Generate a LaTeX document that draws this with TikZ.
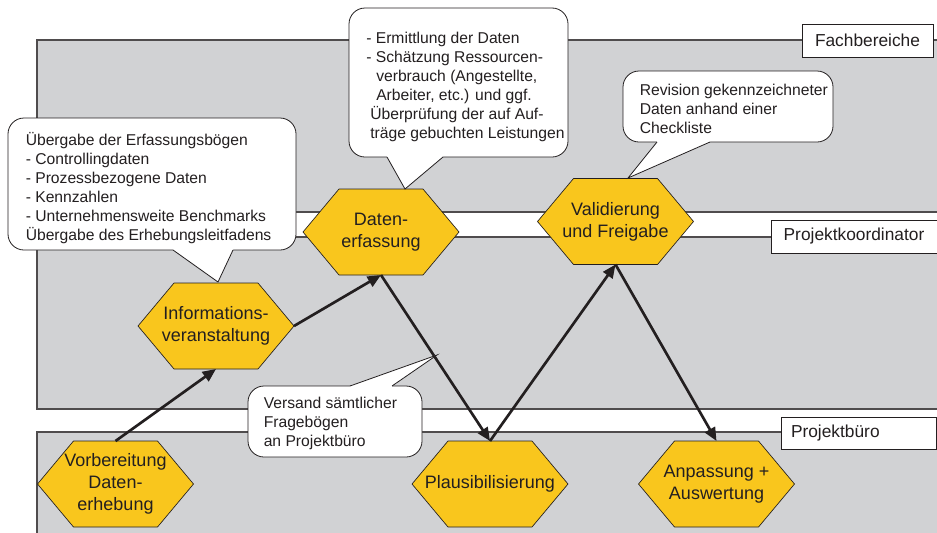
\documentclass[tikz,border=0pt]{standalone}
\usepackage{fontspec}
\setmainfont{Liberation Sans}
\usetikzlibrary{arrows.meta}
\definecolor{lanegray}{HTML}{D1D2D4}
\definecolor{hexyellow}{HTML}{F9C61D}
\definecolor{ink}{HTML}{231F20}
\tikzset{
  lane/.style={fill=lanegray, draw=ink!80, line width=0.8pt},
  lanelabel/.style={draw=ink, fill=white, line width=0.6pt, text=ink,
    font=\fontsize{13}{15}\selectfont, inner sep=0pt, minimum height=24.75pt, outer sep=0pt},
  hexshape/.style={fill=hexyellow, draw=ink, line width=0.5pt},
  hextext/.style={align=center, font=\fontsize{13.5}{16.5}\selectfont, text=ink,
    minimum width=117pt, minimum height=64.5pt, inner sep=0pt, outer sep=0pt},
  callout/.style={fill=white, draw=ink, line width=0.6pt, rounded corners=12pt,
    inner sep=0pt, outer sep=0pt},
  calltail/.style={draw=ink, line width=0.6pt},
  calltext/.style={align=left, font=\fontsize{11.75}{14.25}\selectfont, text=ink,
    inner sep=0pt, anchor=base west},
  flow/.style={draw=ink, line width=2pt, -{Triangle[length=10pt,width=8.5pt]}}
}
\newcommand{\mkhex}[4]{%
  \draw[hexshape] (#2-78,#3) -- (#2-42,#3-43) -- (#2+42,#3-43) -- (#2+78,#3)
    -- (#2+42,#3+43) -- (#2-42,#3+43) -- cycle;
  \node[hextext] (#1) at (#2,#3) {#4};}
\begin{document}
\begin{tikzpicture}[x=0.75pt,y=-0.75pt]
\useasboundingbox (0,0) rectangle (937,532);
\fill[white] (0,0) rectangle (937,532);
\clip (0,0) rectangle (937,532);

% swim lanes
\draw[lane] (37,40) rectangle (960,212);
\draw[lane] (37,237) rectangle (960,409);
\draw[lane] (37,432) rectangle (960,560);

% lane labels
\node[lanelabel, minimum width=98.25pt] (fach) at (867.5,40.5) {Fachbereiche};
\node[lanelabel, minimum width=124.5pt] (pk) at (854,236.5) {Projektkoordinator};
\node[lanelabel, inner xsep=7.5pt, text width=101.25pt, align=left, minimum height=24pt] (pb) at (858.5,433) {Projektbüro};

% process steps
\mkhex{vorb}{115.5}{484}{Vorbereitung\\Daten-\\erhebung}
\mkhex{info}{216}{326}{Informations-\\veranstaltung}
\mkhex{daten}{381}{232}{Daten-\\erfassung}
\mkhex{plaus}{490}{484}{Plausibilisierung}
\mkhex{valid}{615.5}{221.5}{Validierung\\und Freigabe}
\mkhex{anp}{716.5}{484}{Anpassung +\\Auswertung}

% flow
\draw[flow] (vorb.north) -- (info.south);
\draw[flow] (info.east) -- (daten.south);
\draw[flow] (daten.south) -- (plaus.north);
\draw[flow] (plaus.north) -- (valid.south);
\draw[flow] (valid.south) -- (anp.north);

% callout 1
\node[callout, minimum width=216pt, minimum height=99pt] (c1) at (152,184) {};
\coordinate (tip1) at (218,282);
\fill[white] (173,246) -- (173,250) -- (tip1) -- (233,250) -- (233,246) -- cycle;
\draw[calltail] (173,250) -- (tip1) -- (233,250);
\node[calltext] (c1t) at (25.5,240) {Übergabe der Erfassungsbögen\\- Controllingdaten\\- Prozessbezogene Daten\\- Kennzahlen\\- Unternehmensweite Benchmarks\\Übergabe des Erhebungsleitfadens};

% callout 2
\node[callout, minimum width=164.25pt, minimum height=111.75pt] (c2) at (458.5,82.5) {};
\coordinate (tip2) at (405,189);
\fill[white] (387,153) -- (387,157) -- (tip2) -- (443,157) -- (443,153) -- cycle;
\draw[calltail] (387,157) -- (tip2) -- (443,157);
\node[calltext] (c2t) at (366,138) {- Ermittlung der Daten\\- Schätzung Ressourcen-\\\hspace*{7.5pt}verbrauch (Angestellte,\\\hspace*{7.5pt}Arbeiter, etc.) und ggf.\\\hspace*{3pt}Überprüfung der auf Auf-\\\hspace*{3pt}träge gebuchten Leistungen};

% callout 3
\node[callout, minimum width=157.5pt, minimum height=53.25pt] (c3) at (728,106.5) {};
\coordinate (tip3) at (628,178);
\fill[white] (657,138) -- (657,142) -- (tip3) -- (710,142) -- (710,138) -- cycle;
\draw[calltail] (657,142) -- (tip3) -- (710,142);
\node[calltext] (c3t) at (639.5,133) {Revision gekennzeichneter\\Daten anhand einer\\Checkliste};

% callout 4
\node[callout, minimum width=130.5pt, minimum height=53.25pt] (c4) at (335,421.5) {};
\coordinate (tip4) at (437,355);
\fill[white] (350,390) -- (350,386) -- (tip4) -- (392,386) -- (392,390) -- cycle;
\draw[calltail] (350,386) -- (tip4) -- (392,386);
\node[calltext] (c4t) at (263.5,446) {Versand sämtlicher\\Fragebögen\\an Projektbüro};
\end{tikzpicture}
\end{document}
